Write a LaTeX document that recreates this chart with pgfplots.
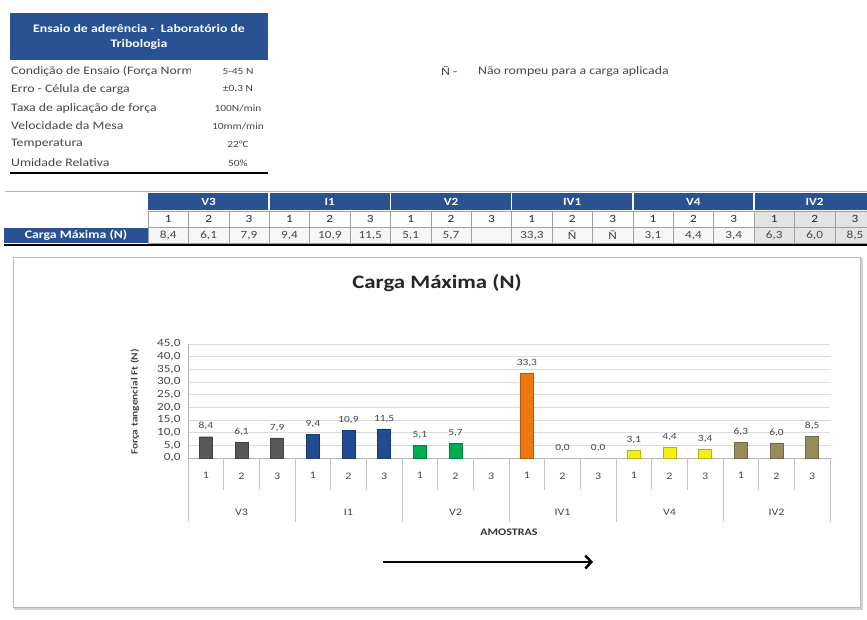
\documentclass[border=0pt]{standalone}
\usepackage{pgfplots}
\pgfplotsset{compat=1.18}
\usepackage{fontspec}
\setmainfont{Carlito}
\newfontfamily\wide{Carlito}[FakeStretch=1.2]
\usetikzlibrary{arrows.meta}

\definecolor{hdrblue}{RGB}{40,82,145}
\definecolor{cV3}{RGB}{88,88,88}
\definecolor{cI1}{RGB}{34,76,146}
\definecolor{cV2}{RGB}{0,172,80}
\definecolor{cIV1}{RGB}{240,118,16}
\definecolor{cV4}{RGB}{242,240,20}
\definecolor{cIV2}{RGB}{150,140,88}
\definecolor{txtgray}{RGB}{70,70,70}

\newcommand{\fs}[1]{\wide\fontsize{#1}{#1}\selectfont}
% bar fill with a slightly darker outline
\pgfplotsset{cyl/.style={fill=#1,draw=#1!75!black}}

\begin{document}
\begin{tikzpicture}[x=1pt,y=1pt]
\useasboundingbox (0,0) rectangle (867,-619);
\fill[white] (0,0) rectangle (867,-619);

% ---- test conditions block ----
\fill[hdrblue] (10,-13) rectangle (268,-60);
\node[white,font=\bfseries\fs{11.5},align=center,inner sep=0pt] at (139,-36.5)
  {Ensaio de aderência -\ \ Laboratório de\\[3.5pt]Tribologia};
\begin{scope}
  \clip (8,-62) rectangle (190,-170);
  \foreach \yy/\t in {71/{Condição de Ensaio (Força Normal)},89/{Erro - Célula de carga},
      108/{Taxa de aplicação de força},126/{Velocidade da Mesa},144/{Temperatura},163/{Umidade Relativa}}
    \node[anchor=west,inner sep=0pt,font=\fs{11.5},text=txtgray] at (11,-\yy) {\t};
\end{scope}
\foreach \yy/\t in {71/{5-45 N},89/{±0,3 N},108/{100N/min},126/{10mm/min},144/{22°C},163/{50\%}}
  \node[inner sep=0pt,font=\fs{9.5},text=txtgray] at (238,-\yy) {\t};
\draw[line width=2.5pt] (10,-173) -- (268,-173);

\node[anchor=west,inner sep=0pt,font=\fs{11.5},text=txtgray] at (441,-71) {Ñ -};
\node[anchor=west,inner sep=0pt,font=\fs{11.5},text=txtgray] at (478,-71) {Não rompeu para a carga aplicada};

% ---- results table ----
\draw[gray!60,line width=1pt] (5,-191) -- (867,-191);
\fill[hdrblue] (148,-193) rectangle (875,-210);
\foreach \g in {1,...,5}
  \draw[white,line width=1.5pt] (148+121.2*\g,-193) -- (148+121.2*\g,-210);
\foreach \g/\t in {0/V3,1/I1,2/V2,3/IV1,4/V4,5/IV2}
  \node[white,font=\bfseries\fs{11}] at (148+121.2*\g+60.6,-201.5) {\t};
\foreach \c in {0,...,17}{
  \pgfmathsetmacro{\xa}{148+40.4*\c}
  \pgfmathsetmacro{\xb}{148+40.4*(\c+1)}
  \pgfmathtruncatemacro{\k}{mod(\c,3)+1}
  \ifnum\c>14
    \fill[gray!22] (\xa,-211) rectangle (\xb,-243);
  \else
    \fill[gray!7] (\xa,-228) rectangle (\xb,-243);
  \fi
  \draw[gray!75] (\xa,-211) rectangle (\xb,-227.5);
  \draw[gray!75] (\xa,-227.5) rectangle (\xb,-243);
  \node[font=\fs{11},text=black!85] at ({(\xa+\xb)/2},-219) {\k};
}
\foreach \c/\v in {0/8{,}4,1/6{,}1,2/7{,}9,3/9{,}4,4/10{,}9,5/11{,}5,6/5{,}1,7/5{,}7,8/{},
                   9/33{,}3,10/Ñ,11/Ñ,12/3{,}1,13/4{,}4,14/3{,}4,15/6{,}3,16/6{,}0,17/8{,}5}
  \node[font=\fs{11},text=txtgray] at (148+40.4*\c+20.2,-235.5) {\v};
\fill[hdrblue] (4,-227.5) rectangle (148,-243);
\node[white,font=\bfseries\fs{11.5}] at (76,-235.5) {Carga Máxima (N)};
\draw[line width=2.5pt] (4,-245) -- (867,-245);

% ---- chart frame ----
\draw[gray!35,line width=2pt] (15,-259) rectangle (862,-609);
\draw[gray!55,line width=0.8pt,fill=white] (13,-257) rectangle (860,-607);
\node[font=\bfseries\fs{19},text=black!85] at (437,-283) {Carga Máxima (N)};
\node[rotate=90,font=\bfseries\fs{9.5},text=txtgray] at (135,-402) {Força tangencial Ft (N)};

\begin{axis}[
  at={(188pt,-458pt)}, anchor=south west,
  scale only axis, width=642pt, height=114pt,
  xmin=0.5, xmax=18.5, ymin=0, ymax=45,
  ytick={0,5,...,45},
  ymajorgrids, grid style={gray!28},
  axis x line*=bottom, axis y line*=left,
  axis line style={gray!60},
  xtick={1,...,18},
  xticklabels={1,2,3,1,2,3,1,2,3,1,2,3,1,2,3,1,2,3},
  major tick length=0pt,
  tick label style={font=\fs{10},text=txtgray},
  yticklabel style={font=\fs{11},xshift=-4pt},
  xticklabel style={yshift=-11pt},
  yticklabel style={/pgf/number format/fixed,/pgf/number format/fixed zerofill,
    /pgf/number format/precision=1,/pgf/number format/use comma},
  /pgf/number format/assume math mode=true,
  ybar, bar width=13pt, bar shift=0pt,
  clip=false,
  nodes near coords={\pgfmathprintnumber[fixed,fixed zerofill,precision=1,use comma,assume math mode=true]{\pgfplotspointmeta}},
  every node near coord/.append style={font=\fs{9.5},text=txtgray,yshift=3pt},
]
\addplot[cyl=cV3] coordinates {(1,8.4) (2,6.1) (3,7.9)};
\addplot[cyl=cI1] coordinates {(4,9.4) (5,10.9) (6,11.5)};
\addplot[cyl=cV2] coordinates {(7,5.1) (8,5.7)};
\addplot[cyl=cIV1] coordinates {(10,33.3)};
\addplot[fill=none,draw=none] coordinates {(11,0) (12,0)};
\addplot[cyl=cV4] coordinates {(13,3.1) (14,4.4) (15,3.4)};
\addplot[cyl=cIV2] coordinates {(16,6.3) (17,6.0) (18,8.5)};

% category separators below the axis
\pgfplotsinvokeforeach{1.5,2.5,4.5,5.5,7.5,8.5,10.5,11.5,13.5,14.5,16.5,17.5}{
  \draw[gray!45] (axis cs:#1,0) -- ++(0pt,-32pt);
}
\pgfplotsinvokeforeach{0.5,3.5,6.5,9.5,12.5,15.5,18.5}{
  \draw[gray!45] (axis cs:#1,0) -- ++(0pt,-64pt);
}
\node[font=\fs{10},text=txtgray] at ([yshift=-54pt]axis cs:2,0) {V3};
\node[font=\fs{10},text=txtgray] at ([yshift=-54pt]axis cs:5,0) {I1};
\node[font=\fs{10},text=txtgray] at ([yshift=-54pt]axis cs:8,0) {V2};
\node[font=\fs{10},text=txtgray] at ([yshift=-54pt]axis cs:11,0) {IV1};
\node[font=\fs{10},text=txtgray] at ([yshift=-54pt]axis cs:14,0) {V4};
\node[font=\fs{10},text=txtgray] at ([yshift=-54pt]axis cs:17,0) {IV2};
\node[font=\bfseries\fs{10},text=black!80] at ([yshift=-74pt]axis cs:9.5,0) {AMOSTRAS};
\end{axis}

\draw[line width=2.5pt,-{Straight Barb[length=6pt,width=13pt,line width=2.5pt]}] (383,-562) -- (593,-562);
\end{tikzpicture}
\end{document}
